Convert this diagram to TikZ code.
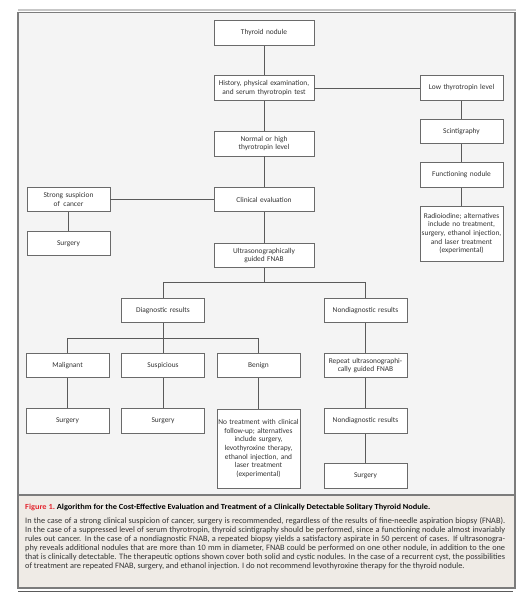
\documentclass[tikz,border=0pt]{standalone}
\usepackage{fontspec}
\setmainfont{Carlito}
\newfontfamily\capfont[FakeStretch=1.08]{Carlito}
\definecolor{bgdiag}{HTML}{F4F4F4}
\definecolor{bgcap}{HTML}{EFEBE6}
\definecolor{framec}{HTML}{7C7C7C}
\definecolor{linec}{HTML}{5A5A5A}
\definecolor{boxc}{HTML}{6A6A6A}
\definecolor{txtc}{HTML}{333333}
\definecolor{figred}{HTML}{E3262F}
\newcommand\capln[1]{\makebox[480pt][s]{#1}\\}
\begin{document}
\begin{tikzpicture}[x=1pt,y=-1pt,
  bx/.style={draw=boxc, line width=0.7pt, fill=white, text=txtc, align=center,
    font=\fontsize{7.4}{8.6}\selectfont, inner sep=1pt},
  wA/.style={minimum width=100pt, minimum height=24.5pt, text width=98pt},
  wB/.style={minimum width=83pt, minimum height=24.5pt, text width=81pt},
  conn/.style={draw=linec, line width=0.7pt}]
\useasboundingbox (0,0) rectangle (525,599);
\fill[white] (0,0) rectangle (525,599);
% frame
\fill[black!22] (18,9) rectangle (516,11);
\fill[bgdiag] (18,12.5) rectangle (515,495);
\fill[bgcap] (18,495) rectangle (515,588);
\draw[framec, line width=1.2pt] (18,12.5) rectangle (515,588);
\draw[framec, line width=1.2pt] (18,495) -- (515,495);
\draw[linec, line width=0.8pt] (18,591) -- (513,591);
% nodes
\node[bx,wA] (thy) at (264,33) {Thyroid nodule};
\node[bx,wA] (hist) at (264,88) {History, physical examination,\\and serum thyrotropin test};
\node[bx,wB] (low) at (461.5,88) {Low thyrotropin level};
\node[bx,wB] (scin) at (461.5,131.5) {Scintigraphy};
\node[bx,wA] (norm) at (264,143.7) {Normal or high\\thyrotropin level};
\node[bx,wB] (func) at (461.5,175) {Functioning nodule};
\node[bx,wB] (strong) at (68.5,199.5) {Strong suspicion\\of\, cancer};
\node[bx,wA] (clin) at (264,199.5) {Clinical evaluation};
\node[bx,wB] (surgL) at (68.5,243.5) {Surgery};
\node[bx,wA] (ultra) at (264,255.5) {Ultrasonographically\\guided FNAB};
\node[bx,wB,minimum height=55pt] (radio) at (461.5,233.5) {Radioiodine; alternatives\\include no treatment,\\surgery, ethanol injection,\\and laser treatment\\(experimental)};
\node[bx,wB] (diag) at (163,310.5) {Diagnostic results};
\node[bx,wB] (nondiag) at (365.5,310.5) {Nondiagnostic results};
\node[bx,wB] (mal) at (67.5,365.5) {Malignant};
\node[bx,wB] (susp) at (163,365.5) {Suspicious};
\node[bx,wB] (ben) at (258.5,365.5) {Benign};
\node[bx,wB] (rep) at (365.5,365.5) {Repeat ultrasonographi-\\cally guided FNAB};
\node[bx,wB] (surg1) at (67.5,421) {Surgery};
\node[bx,wB] (surg2) at (163,421) {Surgery};
\node[bx,wB,minimum height=79pt] (notreat) at (258.5,448.5) {No treatment with clinical\\follow-up; alternatives\\include surgery,\\levothyroxine therapy,\\ethanol injection, and\\laser treatment\\(experimental)};
\node[bx,wB] (nondiag2) at (365.5,421) {Nondiagnostic results};
\node[bx,wB] (surg3) at (365.5,476) {Surgery};
% connectors
\draw[conn] (thy) -- (hist);
\draw[conn] (hist) -- (norm);
\draw[conn] (hist) -- (low);
\draw[conn] (low) -- (scin);
\draw[conn] (scin) -- (func);
\draw[conn] (func) -- (radio);
\draw[conn] (norm) -- (clin);
\draw[conn] (clin) -- (strong);
\draw[conn] (strong) -- (surgL);
\draw[conn] (clin) -- (ultra);
\draw[conn] (ultra.south) -- ++(0,14.6) coordinate (b1);
\draw[conn] (b1) -| (diag.north);
\draw[conn] (b1) -| (nondiag.north);
\draw[conn] (diag.south) -- ++(0,15.6) coordinate (b2);
\draw[conn] (b2) -| (mal.north);
\draw[conn] (b2) -| (ben.north);
\draw[conn] (diag) -- (susp);
\draw[conn] (nondiag) -- (rep);
\draw[conn] (rep) -- (nondiag2);
\draw[conn] (nondiag2) -- (surg3);
\draw[conn] (mal) -- (surg1);
\draw[conn] (susp) -- (surg2);
\draw[conn] (ben) -- (notreat);
% caption
\node[anchor=west, inner sep=0pt, font=\capfont\fontsize{7.75}{9}\selectfont\bfseries] (captitle) at (25,507.7)
  {\textcolor{figred}{Figure 1.}\ Algorithm for the Cost-Effective Evaluation and Treatment of a Clinically Detectable Solitary Thyroid Nodule.};
\node[anchor=north west, inner sep=0pt, align=left, text=txtc, font=\fontsize{8.3}{9}\selectfont] (capbody) at (25,516.8)
  {\capln{In the case of a strong clinical suspicion of cancer, surgery is recommended, regardless of the results of fine-needle aspiration biopsy (FNAB).}
   \capln{In the case of a suppressed level of serum thyrotropin, thyroid scintigraphy should be performed, since a functioning nodule almost invariably}
   \capln{rules out cancer. In the case of a nondiagnostic FNAB, a repeated biopsy yields a satisfactory aspirate in 50 percent of cases. If ultrasonogra-}
   \capln{phy reveals additional nodules that are more than 10 mm in diameter, FNAB could be performed on one other nodule, in addition to the one}
   \capln{that is clinically detectable. The therapeutic options shown cover both solid and cystic nodules. In the case of a recurrent cyst, the possibilities}
   of treatment are repeated FNAB, surgery, and ethanol injection. I do not recommend levothyroxine therapy for the thyroid nodule.};
\end{tikzpicture}
\end{document}
